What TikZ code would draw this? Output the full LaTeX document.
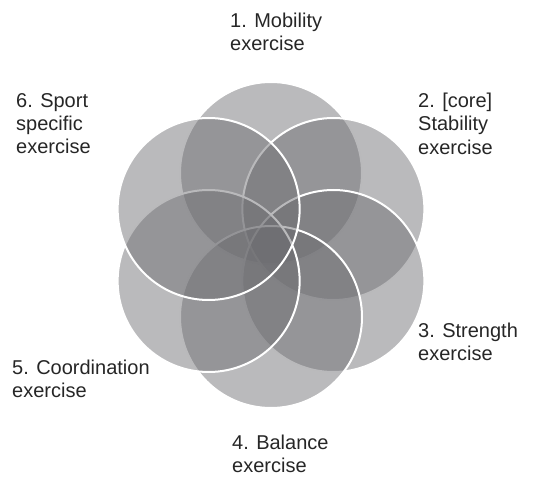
\documentclass[tikz,border=0pt]{standalone}
\usepackage{fontspec}
\setmainfont{Liberation Sans}
\usetikzlibrary{positioning}

\definecolor{petalgray}{RGB}{108,108,112}

\begin{document}
\begin{tikzpicture}[x=1pt, y=1pt,
    petal/.style={circle, draw=white, line width=2pt, fill=petalgray, fill opacity=0.47, minimum size=182pt, inner sep=0pt},
    lbl/.style={anchor=north west, align=left, inner sep=0pt, text=black!85, font=\fontsize{20}{23.3}\selectfont},
    ]
    \useasboundingbox (0,0) rectangle (549,477);
    \coordinate (ctr) at (271,232);

    % Circles (each one drawn over the ones before)
    \foreach \name/\ang in {mob/90, stab/30, str/-30, bal/-90, coord/-150, sport/150}
        \node[petal] (\name) at ([shift={(\ang:72)}]ctr) {};

    % Labels
    \node[lbl] (mob-l) at (230,464) {1. Mobility\\exercise};
    \node[lbl] (stab-l) at (418,384) {2. [core]\\Stability\\exercise};
    \node[lbl] (str-l) at (418,154) {3. Strength\\exercise};
    \node[lbl] (bal-l) at (232,42) {4. Balance\\exercise};
    \node[lbl] (coord-l) at (12,117) {5. Coordination\\exercise};
    \node[lbl] (sport-l) at (16,384) {6. Sport\\specific\\exercise};
\end{tikzpicture}
\end{document}
